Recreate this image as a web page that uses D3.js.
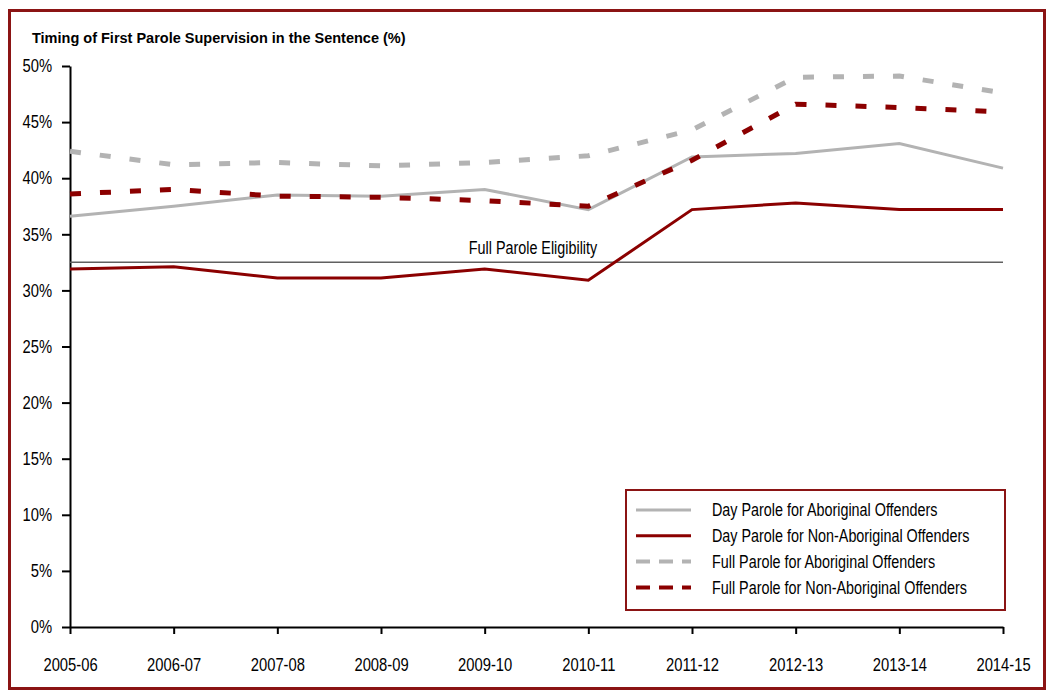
<!DOCTYPE html>
<html>
<head>
<meta charset="utf-8">
<script src="https://cdn.jsdelivr.net/npm/d3@7"></script>
<style>
  body { margin: 0; background: #fff; }
  text { font-family: "Liberation Sans", Arial, sans-serif; fill: #000; }
</style>
</head>
<body>
<svg width="1055" height="697"></svg>
<script>
(function (d3) {
  'use strict';

  // data
  const years = ['2005-06', '2006-07', '2007-08', '2008-09', '2009-10',
                 '2010-11', '2011-12', '2012-13', '2013-14', '2014-15'];
  const dayAboriginal    = [36.6, 37.5, 38.5, 38.4, 39.0, 37.2, 41.9, 42.2, 43.1, 40.9];
  const dayNonAboriginal = [31.9, 32.1, 31.1, 31.1, 31.9, 30.9, 37.2, 37.8, 37.2, 37.2];
  const fullAboriginal   = [42.4, 41.2, 41.4, 41.1, 41.4, 42.0, 44.3, 49.0, 49.1, 47.6];
  const fullNonAboriginal= [38.6, 39.0, 38.4, 38.3, 38.0, 37.5, 41.6, 46.6, 46.3, 45.9];
  const eligibility = 32.5;
  const yTicks = [0, 5, 10, 15, 20, 25, 30, 35, 40, 45, 50];
  const seriesNames = ['Day Parole for Aboriginal Offenders',
                       'Day Parole for Non-Aboriginal Offenders',
                       'Full Parole for Aboriginal Offenders',
                       'Full Parole for Non-Aboriginal Offenders'];

  const grey = '#b3b3b3';
  const red = '#8b0000';
  const series = [
    { name: seriesNames[0], values: dayAboriginal,     color: grey, width: 3, dash: null },
    { name: seriesNames[1], values: dayNonAboriginal,  color: red,  width: 3, dash: null },
    { name: seriesNames[2], values: fullAboriginal,    color: grey, width: 5, dash: '11,19' },
    { name: seriesNames[3], values: fullNonAboriginal, color: red,  width: 5, dash: '11,19' }
  ];

  const svg = d3.select('svg');

  // narrow look: squeeze the glyphs of a text horizontally
  function narrow(sel) {
    sel.each(function () {
      const len = this.getComputedTextLength();
      d3.select(this)
        .attr('textLength', len * 0.82)
        .attr('lengthAdjust', 'spacingAndGlyphs');
    });
  }

  // outer frame
  svg.append('rect')
    .attr('x', 9.5).attr('y', 10.5)
    .attr('width', 1035).attr('height', 678)
    .attr('fill', 'none')
    .attr('stroke', '#8b1414')
    .attr('stroke-width', 3);

  svg.append('text')
    .attr('x', 32).attr('y', 43)
    .style('font-weight', 'bold')
    .style('font-size', '14.5px')
    .text('Timing of First Parole Supervision in the Sentence (%)');

  const x = d3.scalePoint().domain(years).range([70, 1003]);
  const y = d3.scaleLinear().domain([0, 50]).range([627, 66]);

  const yAxis = svg.append('g')
    .attr('transform', 'translate(70,0)')
    .call(d3.axisLeft(y).tickValues(yTicks).tickFormat(d => d + '%')
      .tickSize(8).tickSizeOuter(0).tickPadding(10));

  const xAxis = svg.append('g')
    .attr('transform', 'translate(0,627)')
    .call(d3.axisBottom(x).tickSize(7).tickSizeOuter(0).tickPadding(24));

  [yAxis, xAxis].forEach(a => {
    a.selectAll('path, line').attr('stroke', '#000').attr('stroke-width', 2);
    a.selectAll('text').style('font-size', '18px')
      .style('font-family', '"Liberation Sans", Arial, sans-serif')
      .attr('fill', '#000')
      .call(narrow);
  });

  // full parole eligibility reference line
  svg.append('line')
    .attr('x1', x(years[0])).attr('x2', x(years[years.length - 1]))
    .attr('y1', y(eligibility)).attr('y2', y(eligibility))
    .attr('stroke', '#606060')
    .attr('stroke-width', 1.5);

  svg.append('text')
    .attr('x', 533).attr('y', y(eligibility) - 8)
    .attr('text-anchor', 'middle')
    .style('font-size', '17.5px')
    .text('Full Parole Eligibility')
    .call(narrow);

  const line = d3.line()
    .x((d, i) => x(years[i]))
    .y(d => y(d));

  svg.selectAll('path.series')
    .data(series)
    .join('path')
      .attr('class', 'series')
      .attr('d', d => line(d.values))
      .attr('fill', 'none')
      .attr('stroke', d => d.color)
      .attr('stroke-width', d => d.width)
      .attr('stroke-dasharray', d => d.dash);

  // legend
  const legend = svg.append('g');
  legend.append('rect')
    .attr('x', 626).attr('y', 490)
    .attr('width', 379).attr('height', 120)
    .attr('fill', '#fff')
    .attr('stroke', '#8b1414')
    .attr('stroke-width', 2);

  const rows = legend.selectAll('g.row')
    .data(series)
    .join('g')
      .attr('class', 'row')
      .attr('transform', (d, i) => `translate(0, ${510 + i * 25.8})`);

  rows.append('line')
    .attr('x1', 636).attr('x2', 691)
    .attr('stroke', d => d.color)
    .attr('stroke-width', d => d.dash ? 4 : 3)
    .attr('stroke-dasharray', d => d.dash ? '14,9' : null);

  rows.append('text')
    .attr('x', 712).attr('dy', '0.35em')
    .style('font-size', '17.5px')
    .text(d => d.name)
    .call(narrow);

}(d3));
</script>
</body>
</html>
